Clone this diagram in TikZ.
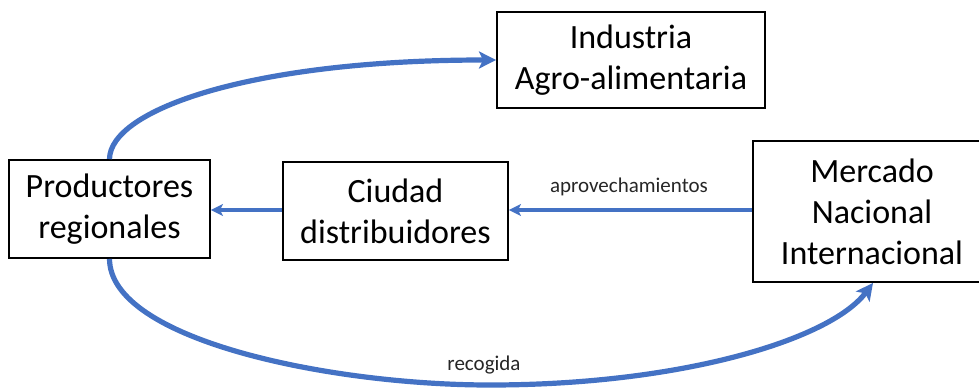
\documentclass[tikz,border=0pt]{standalone}
\usepackage{fontspec}
\setmainfont{Carlito}
\usetikzlibrary{arrows.meta}
\definecolor{flowblue}{HTML}{4472C4}
\definecolor{lbltext}{HTML}{262626}
\begin{document}
\begin{tikzpicture}[x=1pt,y=-1pt,
  box/.style={draw=black,line width=1.9pt,inner sep=0pt,align=center,
              font=\fontsize{34}{41}\selectfont},
  lbl/.style={inner sep=0pt,text=lbltext,font=\fontsize{21}{25}\selectfont,anchor=base},
  curvearrow/.style={draw=flowblue,line width=5.2pt,-{Stealth[length=17pt,width=17pt,inset=4pt]}},
  straightarrow/.style={draw=flowblue,line width=3.3pt,-{Stealth[length=12pt,width=12pt,inset=3pt]}}]
\useasboundingbox (0,0) rectangle (979,388);
\node[box,minimum width=268,minimum height=96] (ind) at (631,60) {Industria\\Agro-alimentaria};
\node[box,minimum width=201,minimum height=98] (prod) at (109.5,209) {Productores\\regionales};
\node[box,minimum width=225,minimum height=98] (ciu) at (395.5,211) {Ciudad\\distribuidores};
\node[box,minimum width=238,minimum height=141] (merc) at (872,211.5) {Mercado\\Nacional\\Internacional};
\coordinate (bot) at (490,385);
\coordinate (mtip) at ([xshift=1pt]merc.south);
\draw[curvearrow] (prod.north) .. controls (110,110) and (250,60) .. (ind.west);
\draw[curvearrow] (prod.south) .. controls (110,340) and (330,385) .. (bot)
                 .. controls (680,385) and (830,340) .. (mtip);
\draw[straightarrow] (ciu.west |- 0,210) -- (prod.east |- 0,210);
\draw[straightarrow] (merc.west |- 0,210) -- (ciu.east |- 0,210);
\node[lbl] (lap) at (629,192) {aprovechamientos};
\node[lbl] (lrec) at (484,370) {recogida};
\end{tikzpicture}
\end{document}
